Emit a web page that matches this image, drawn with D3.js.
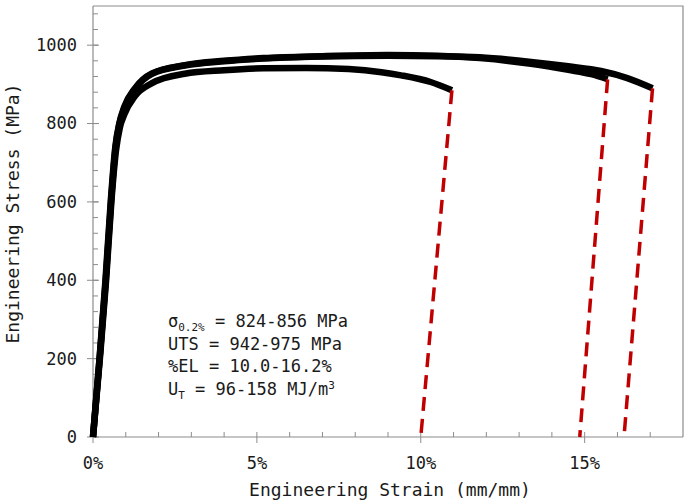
<!DOCTYPE html>
<html>
<head>
<meta charset="utf-8">
<script src="https://cdn.jsdelivr.net/npm/d3@7"></script>
<style>
  body { margin: 0; background: #fff; }
  text { font-family: "DejaVu Sans Mono", "Liberation Mono", monospace; fill: #1a1a1a; }
</style>
</head>
<body>
<div id="chart"></div>
<script>
// strain in %, stress in MPa
var curve1 = [[0,0],[0.21,200],[0.4,400],[0.56,600],[0.7,730],[0.82,790],[0.95,822],[1.28,870],[1.8,903],[2.8,927],[4,936],[5.2,941],[6.5,942],[7.8,939],[8.8,931],[9.4,923],[10.3,906],[10.95,885]];
var curve2 = [[0,0],[0.2,200],[0.38,400],[0.54,600],[0.68,740],[0.8,800],[0.95,842],[1.28,890],[1.8,928],[2.8,949],[4,960],[5.2,967],[7,972],[9,975],[10.5,973],[11.8,967],[13.3,953],[14.5,937],[15.2,926],[15.7,913]];
var curve3 = [[0,0],[0.2,200],[0.39,400],[0.55,600],[0.69,740],[0.81,800],[0.96,840],[1.28,888],[1.8,927],[2.8,948],[4,959],[5.2,966],[7,971],[9,973],[10.5,972],[11.8,969],[13.3,958],[14.5,946],[15.5,934],[16.3,916],[17.07,890]];
var curves = [curve1, curve2, curve3];

// unloading lines: [fracture point, zero-stress strain]
var unload = [[[10.95,885],[10.0,0]],[[15.7,913],[14.85,0]],[[17.07,890],[16.2,0]]];

var xTicks = [0, 5, 10, 15];
var yTicks = [0, 200, 400, 600, 800, 1000];

var margin = {top: 6, right: 2, bottom: 64, left: 93},
    width = 685 - margin.left - margin.right,
    height = 501 - margin.top - margin.bottom;

var svg = d3.select("#chart")
    .append("svg")
    .attr("width", 685)
    .attr("height", 501)
    .append("g")
    .attr("transform", "translate(" + margin.left + "," + margin.top + ")");

var x = d3.scaleLinear().domain([0, 18]).range([0, width]);
var y = d3.scaleLinear().domain([0, 1100]).range([height, 0]);

var axisColor = "#8c8c8c";

// frame (top and right)
svg.append("path")
    .attr("d", "M0,0H" + width + "V" + height)
    .attr("fill", "none")
    .attr("stroke", axisColor)
    .attr("stroke-width", 1.2);

// x axis: minor ticks inside, major ticks outside
var xAxis = svg.append("g").attr("transform", "translate(0," + height + ")");
xAxis.append("line").attr("x1", 0).attr("x2", width).attr("stroke", axisColor).attr("stroke-width", 1.2);
xAxis.selectAll(".minor").data(d3.range(1, 18)).enter().append("line")
    .attr("x1", x).attr("x2", x).attr("y1", 0).attr("y2", -5)
    .attr("stroke", axisColor);
xAxis.selectAll(".major").data(xTicks).enter().append("line")
    .attr("x1", x).attr("x2", x).attr("y1", 0).attr("y2", 6)
    .attr("stroke", axisColor);
xAxis.selectAll(".lbl").data(xTicks).enter().append("text")
    .attr("x", x).attr("y", 32)
    .attr("text-anchor", "middle")
    .style("font-size", "17px")
    .text(function (d) { return d + "%"; });

// y axis
var yAxis = svg.append("g");
yAxis.append("line").attr("y1", 0).attr("y2", height).attr("stroke", axisColor).attr("stroke-width", 1.2);
yAxis.selectAll(".minor").data(d3.range(40, 1100, 40)).enter().append("line")
    .attr("y1", y).attr("y2", y).attr("x1", 0).attr("x2", 5)
    .attr("stroke", axisColor);
yAxis.selectAll(".major").data(yTicks).enter().append("line")
    .attr("y1", y).attr("y2", y).attr("x1", -6).attr("x2", 6)
    .attr("stroke", axisColor);
yAxis.selectAll(".lbl").data(yTicks).enter().append("text")
    .attr("x", -16).attr("y", y).attr("dy", "0.35em")
    .attr("text-anchor", "end")
    .style("font-size", "17px")
    .text(function (d) { return d; });

// stress-strain curves
var line = d3.line()
    .x(function (d) { return x(d[0]); })
    .y(function (d) { return y(d[1]); })
    .curve(d3.curveMonotoneX);

svg.selectAll(".curve").data(curves).enter().append("path")
    .attr("d", line)
    .attr("fill", "none")
    .attr("stroke", "#000")
    .attr("stroke-width", 6.5)
    .attr("stroke-linejoin", "round");

// unloading (elastic recovery) lines
svg.selectAll(".unload").data(unload).enter().append("path")
    .attr("d", d3.line().x(function (d) { return x(d[0]); }).y(function (d) { return y(d[1]); }))
    .attr("fill", "none")
    .attr("stroke", "#c00000")
    .attr("stroke-width", 3.5)
    .attr("stroke-dasharray", "14,8");

// annotation block
var notes = svg.append("g").attr("transform", "translate(75,321)").style("font-size", "17px");
var t1 = notes.append("text").attr("y", 0);
t1.append("tspan").text("σ");
t1.append("tspan").attr("dy", 4).style("font-size", "11px").text("0.2%");
t1.append("tspan").attr("dy", -4).text(" = 824-856 MPa");
notes.append("text").attr("y", 22.7).text("UTS = 942-975 MPa");
notes.append("text").attr("y", 45.4).text("%EL = 10.0-16.2%");
var t4 = notes.append("text").attr("y", 68.1);
t4.append("tspan").text("U");
t4.append("tspan").attr("dy", 4).style("font-size", "11px").text("T");
t4.append("tspan").attr("dy", -4).text(" = 96-158 MJ/m");
t4.append("tspan").attr("dy", -6).style("font-size", "11px").text("3");

// axis titles
svg.append("text")
    .attr("x", width / 2 + 2)
    .attr("y", height + 59)
    .attr("text-anchor", "middle")
    .style("font-size", "18px")
    .text("Engineering Strain (mm/mm)");

svg.append("text")
    .attr("transform", "rotate(-90)")
    .attr("x", -height / 2 + 8)
    .attr("y", -74)
    .attr("text-anchor", "middle")
    .style("font-size", "18px")
    .text("Engineering Stress (MPa)");
</script>
</body>
</html>
